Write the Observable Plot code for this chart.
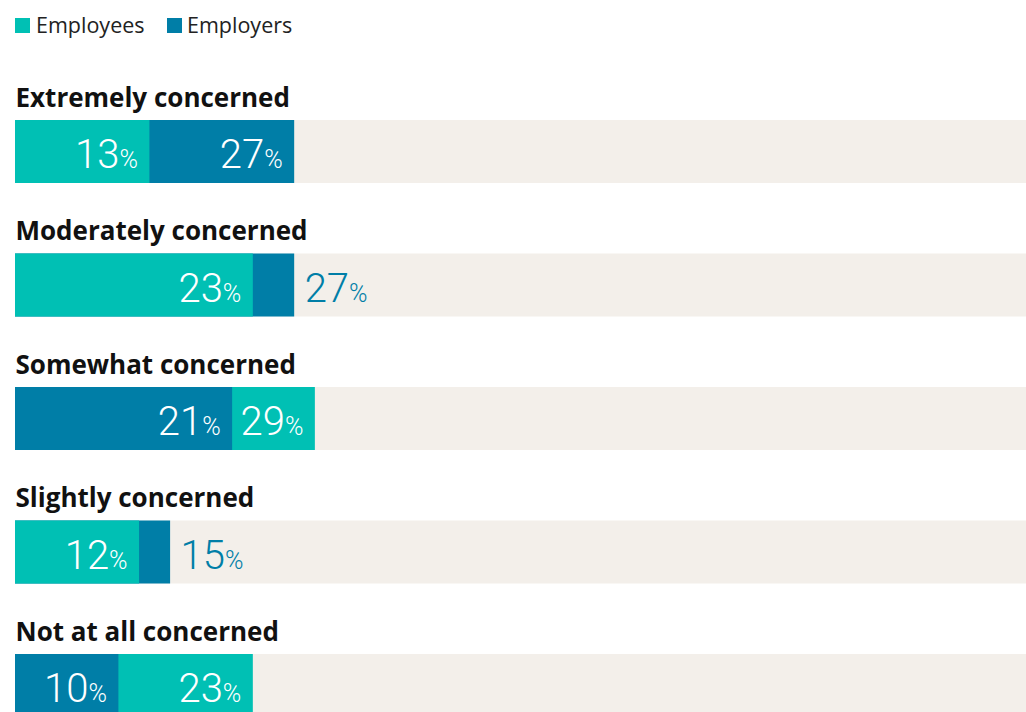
<!DOCTYPE html>
<html>
<head>
<meta charset="utf-8">
<script src="https://cdn.jsdelivr.net/npm/d3@7"></script>
<script src="https://cdn.jsdelivr.net/npm/@observablehq/plot@0.6"></script>
<style>
  html, body { margin: 0; padding: 0; background: #fff; overflow: hidden; width: 1026px; height: 712px; }
  #legend { position: relative; height: 50px; width: 1026px; font-family: "Open Sans", Roboto, sans-serif; font-size: 21.5px; color: #222; }
  #legend .sw { position: absolute; top: 18px; width: 15px; height: 15px; }
  #legend .lb { position: absolute; top: 14px; line-height: 21px; white-space: nowrap; }
  #chart svg { display: block; }
</style>
</head>
<body>
<div id="legend"></div>
<div id="chart"></div>
<script>
const categories = ["Extremely concerned", "Moderately concerned", "Somewhat concerned", "Slightly concerned", "Not at all concerned"];
const seriesNames = ["Employees", "Employers"];
const employees = [13, 23, 29, 12, 23];
const employers = [27, 27, 21, 15, 10];
const colors = ["#00C0B4", "#007EA7"];
const trackColor = "#F3EFEA";

// legend
const legend = document.getElementById("legend");
const legendPos = [[15, 36], [167, 187]];
seriesNames.forEach((s, i) => {
  const sw = document.createElement("div");
  sw.className = "sw"; sw.style.left = legendPos[i][0] + "px"; sw.style.background = colors[i];
  const lb = document.createElement("div");
  lb.className = "lb"; lb.style.left = legendPos[i][1] + "px"; lb.textContent = s;
  legend.appendChild(sw); legend.appendChild(lb);
});

// table
const rows = [];
const labels = [];
categories.forEach((c, i) => {
  const vals = [
    {category: c, series: "Employees", value: employees[i]},
    {category: c, series: "Employers", value: employers[i]}
  ].sort((a, b) => b.value - a.value);
  rows.push(...vals);
  const [big, small] = vals;
  labels.push({...small, inside: true});
  labels.push({...big, inside: big.value - small.value >= 6});
});
const track = categories.map(c => ({category: c, value: 100}));

const fmt = d => d.value + "%";
const valueFont = {fontFamily: "Roboto, 'Noto Sans', sans-serif", fontWeight: 300, fontSize: 40, lineAnchor: "bottom", dy: 51};

const plot = Plot.plot({
  width: 1026,
  height: 668,
  marginTop: 0, marginBottom: 0, marginLeft: 15, marginRight: 0,
  x: {domain: [0, 100], range: [15, 1049], axis: null},
  y: {domain: categories, range: [0, 667.5], padding: 0, axis: null, round: false},
  color: {domain: seriesNames, range: colors},
  marks: [
    Plot.barX(track, {y: "category", x1: 0, x2: "value", fill: trackColor, insetTop: 70, insetBottom: 0.5}),
    Plot.barX(rows, {y: "category", x1: 0, x2: "value", fill: "series", insetTop: 70, insetBottom: 0.5}),
    Plot.text(categories, {x: () => 0, y: d => d, text: d => d, textAnchor: "start", dx: 0, dy: -10.5, lineAnchor: "bottom",
      fontFamily: "'Open Sans', Roboto, sans-serif", fontWeight: 700, fontSize: 26, fill: "#111"}),
    Plot.text(labels.filter(d => d.inside), {x: "value", y: "category", text: fmt, textAnchor: "end", dx: -12, fill: "white", className: "val", ...valueFont}),
    Plot.text(labels.filter(d => !d.inside), {x: "value", y: "category", text: fmt, textAnchor: "start", dx: 10, fill: d => d.series, className: "val", ...valueFont})
  ]
});

// render the % sign smaller
d3.select(plot).selectAll(".val text").each(function() {
  const t = this.textContent;
  if (!t.endsWith("%")) return;
  const num = t.slice(0, -1);
  const sel = d3.select(this);
  sel.text(num);
  sel.append("tspan").attr("font-size", 25).attr("dx", 0).text("%");
});

document.getElementById("chart").appendChild(plot);
</script>
</body>
</html>
